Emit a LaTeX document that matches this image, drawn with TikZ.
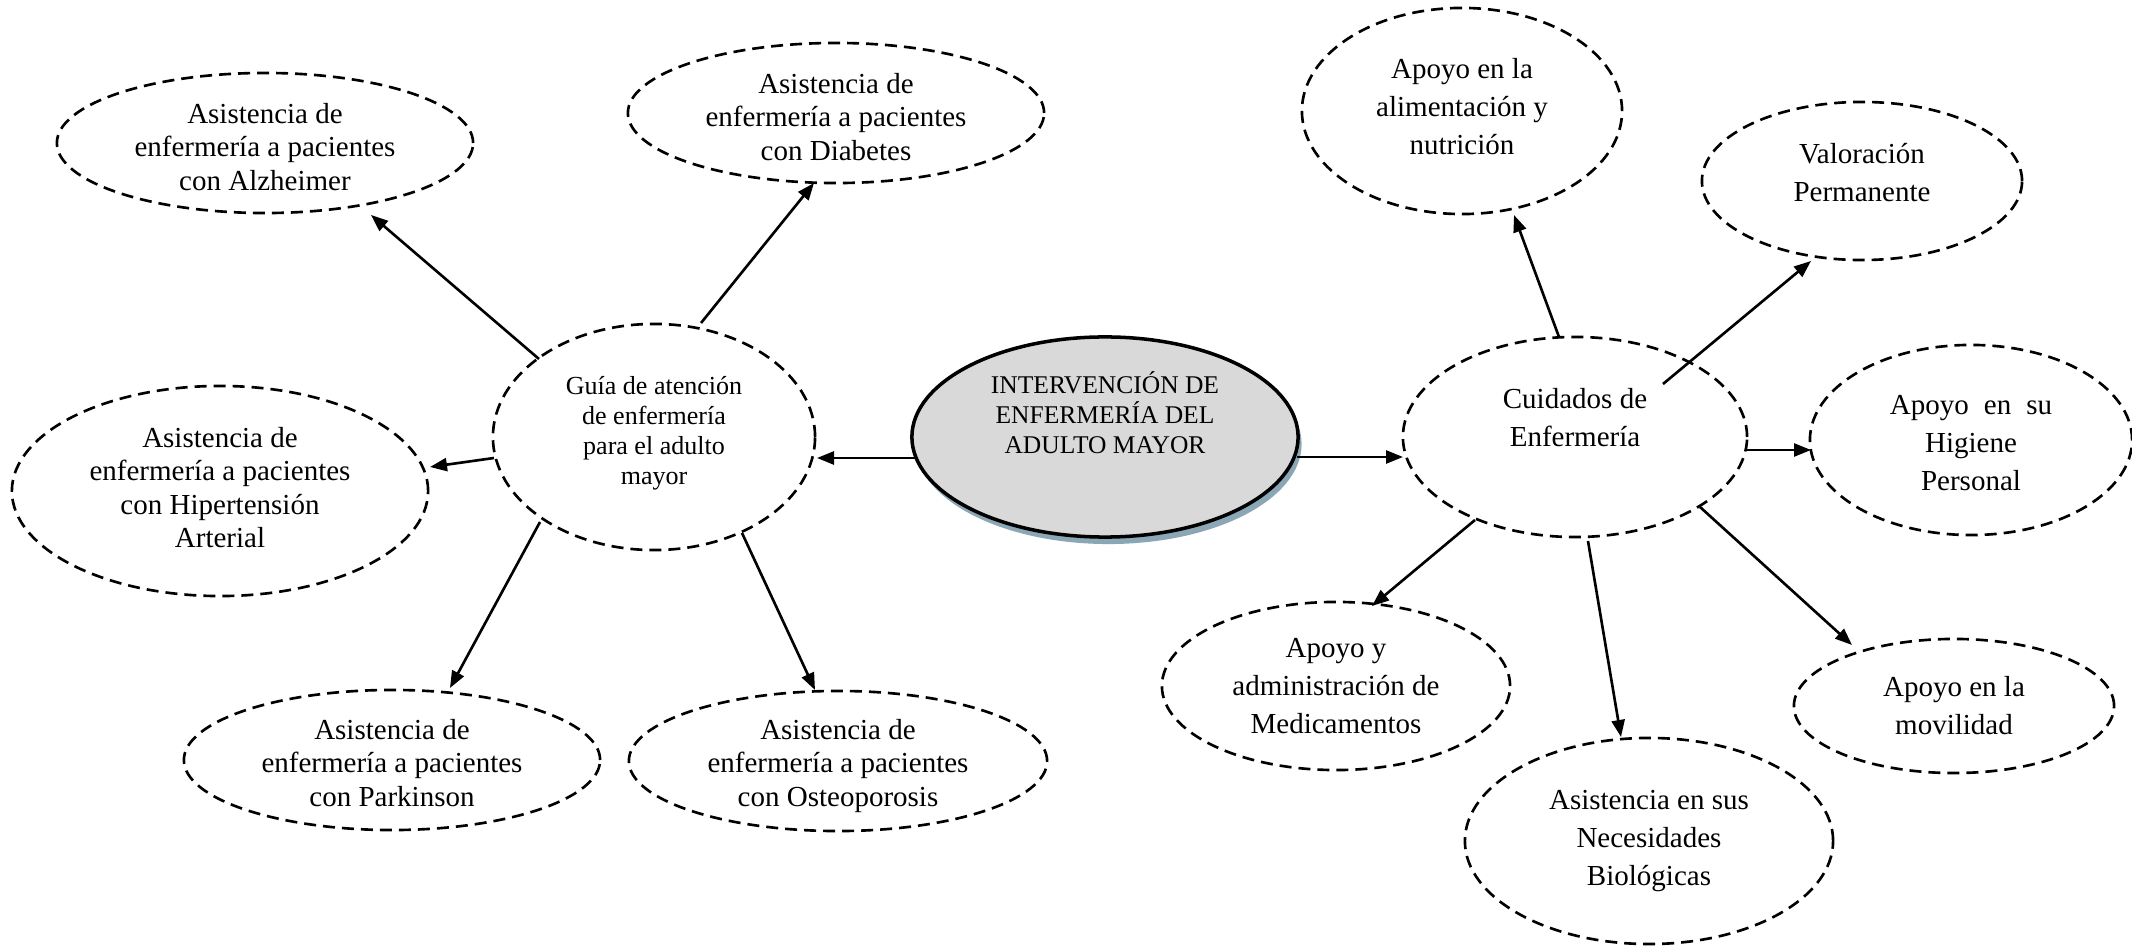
\documentclass[tikz,border=0pt]{standalone}
\usepackage{fontspec}
\setmainfont{Liberation Serif}
\usetikzlibrary{shapes.geometric,arrows.meta,shadows}
\definecolor{bubshadow}{RGB}{139,167,181}
\definecolor{bubfill}{RGB}{217,217,217}
\begin{document}
\begin{tikzpicture}[x=0.01cm,y=-0.01cm,
  bub/.style={ellipse, draw, line width=0.75pt, dash pattern=on 0.12cm off 0.07cm, inner sep=0pt},
  txtA/.style={align=center, inner sep=0pt, font=\fontsize{8.25}{9.5}\selectfont},
  txtB/.style={align=center, inner sep=0pt, font=\fontsize{7.4}{8.55}\selectfont},
  txtC/.style={align=center, inner sep=0pt, font=\fontsize{7.25}{8.55}\selectfont},
  txtD/.style={align=center, inner sep=0pt, font=\fontsize{8.25}{10.8}\selectfont},
  arr/.style={line width=0.75pt, -{Triangle[length=0.17cm,width=0.13cm]}}]
\useasboundingbox (0,0) rectangle (2132,946);

% central topic
\node[ellipse, draw, line width=1pt, fill=bubfill, minimum width=3.86cm, minimum height=2.00cm,
      drop shadow={shadow xshift=0.035cm, shadow yshift=-0.07cm, fill=bubshadow, opacity=1},
      label={[txtC, yshift=0.24cm]center:INTERVENCIÓN DE\\ENFERMERÍA DEL\\ADULTO MAYOR}] (cen) at (1105,437) {};

% left branch
\node[bub, minimum width=3.22cm, minimum height=2.26cm,
      label={[txtB, yshift=0.04cm]center:Guía de atención\\de enfermería\\para el adulto\\mayor}] (gui) at (654,437) {};
\node[bub, minimum width=4.16cm, minimum height=1.40cm,
      label={[txtA, yshift=-0.04cm]center:Asistencia de\\enfermería a pacientes\\con Alzheimer}] (alz) at (265,143) {};
\node[bub, minimum width=4.16cm, minimum height=1.40cm,
      label={[txtA, yshift=-0.04cm]center:Asistencia de\\enfermería a pacientes\\con Diabetes}] (dia) at (836,113) {};
\node[bub, minimum width=4.16cm, minimum height=2.10cm,
      label={[txtA, yshift=0.035cm]center:Asistencia de\\enfermería a pacientes\\con Hipertensión\\Arterial}] (hip) at (220,491) {};
\node[bub, minimum width=4.16cm, minimum height=1.40cm,
      label={[txtA, yshift=-0.03cm]center:Asistencia de\\enfermería a pacientes\\con Parkinson}] (par) at (392,760) {};
\node[bub, minimum width=4.18cm, minimum height=1.40cm,
      label={[txtA, yshift=-0.05cm]center:Asistencia de\\enfermería a pacientes\\con Osteoporosis}] (ost) at (838,761) {};

% right branch
\node[bub, minimum width=3.44cm, minimum height=2.00cm,
      label={[txtD, yshift=0.19cm]center:Cuidados de\\Enfermería}] (cui) at (1575,437) {};
\node[bub, minimum width=3.20cm, minimum height=2.06cm,
      label={[txtD, yshift=0.04cm]center:Apoyo en la\\alimentación y\\nutrición}] (ali) at (1462,111) {};
\node[bub, minimum width=3.20cm, minimum height=1.58cm,
      label={[txtD, yshift=0.08cm]center:Valoración\\Permanente}] (val) at (1862,181) {};
\node[bub, minimum width=3.22cm, minimum height=1.90cm,
      label={[txtD, yshift=-0.03cm]center:Apoyo\hspace{0.52em}en\hspace{0.52em}su\\Higiene\\Personal}] (hig) at (1971,440) {};
\node[bub, minimum width=3.20cm, minimum height=1.34cm,
      label={[txtD]center:Apoyo en la\\movilidad}] (mov) at (1954,706) {};
\node[bub, minimum width=3.68cm, minimum height=2.06cm,
      label={[txtD]center:Asistencia en sus\\Necesidades\\Biológicas}] (nec) at (1649,841) {};
\node[bub, minimum width=3.48cm, minimum height=1.68cm,
      label={[txtD]center:Apoyo y\\administración de\\Medicamentos}] (med) at (1336,686) {};

% connectors
\draw[arr] ([shift={(-190,21)}]cen.center) -- ([shift={(163,21)}]gui.center);
\draw[arr] ([shift={(192,20)}]cen.center) -- ([shift={(-172,20)}]cui.center);

\draw[arr] ([shift={(-115,-78)}]gui.center) -- ([shift={(106,72)}]alz.center);
\draw[arr] ([shift={(47,-114)}]gui.center) -- ([shift={(-22,70)}]dia.center);
\draw[arr] ([shift={(-160,21)}]gui.center) -- ([shift={(210,-24)}]hip.center);
\draw[arr] ([shift={(-114,85)}]gui.center) -- ([shift={(58,-72)}]par.center);
\draw[arr] ([shift={(88,96)}]gui.center) -- ([shift={(-23,-71)}]ost.center);

\draw[arr] ([shift={(-16,-100)}]cui.center) -- ([shift={(52,104)}]ali.center);
\draw[arr] ([shift={(88,-53)}]cui.center) -- ([shift={(-51,80)}]val.center);
\draw[arr] ([shift={(172,13)}]cui.center) -- ([shift={(-160,10)}]hig.center);
\draw[arr] ([shift={(125,70)}]cui.center) -- ([shift={(-102,-61)}]mov.center);
\draw[arr] ([shift={(13,104)}]cui.center) -- ([shift={(-28,-104)}]nec.center);
\draw[arr] ([shift={(-100,83)}]cui.center) -- ([shift={(36,-80)}]med.center);
\end{tikzpicture}
\end{document}
